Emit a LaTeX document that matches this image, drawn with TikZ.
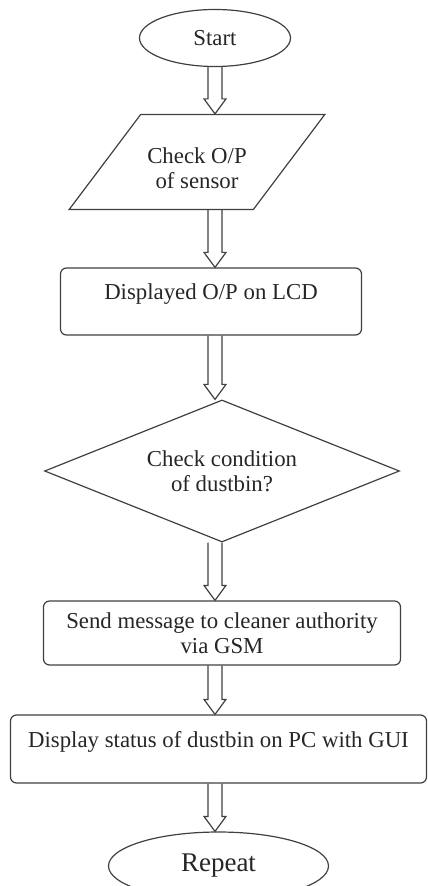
\documentclass[tikz,border=0pt]{standalone}
\usepackage{fontspec}
\setmainfont{Liberation Serif}
\usetikzlibrary{shapes.geometric,positioning}

\begin{document}
\begin{tikzpicture}[
	nodes={draw=black!75, line width=0.6pt, text=black!85, align=center, inner sep=0pt,
		font=\fontsize{11.4}{12.5}\selectfont},
	terminal/.style={ellipse},
	io/.style={trapezium, trapezium left angle=56.4, trapezium right angle=123.6,
		trapezium stretches=true},
	process/.style={rectangle, rounded corners=3pt},
	toptext/.style={text height=16pt, text depth=17.5pt},
	decision/.style={diamond, aspect=2.5},
	flow/.style={draw=black!75, line width=0.6pt,
		to path={([xshift=-3.5pt]\tikztostart) -- ([xshift=-3.5pt,yshift=7.5pt]\tikztotarget)
			-- ([xshift=-5.5pt,yshift=7.5pt]\tikztotarget) -- (\tikztotarget)
			-- ([xshift=5.5pt,yshift=7.5pt]\tikztotarget) -- ([xshift=3.5pt,yshift=7.5pt]\tikztotarget)
			-- ([xshift=3.5pt]\tikztostart)}}]
		\useasboundingbox (-107.5pt,19pt) rectangle (106pt,-424pt);
		\node (start) [terminal, minimum width=75.5pt, minimum height=28.5pt] {Start};
		\node (check) [io, below of = start, node distance=62pt, xshift=-9pt,
			text height=36.8pt, text depth=10.7pt, minimum width=128pt] {Check O/P\\of sensor};
		\node (disp) [process, toptext, below of = check, node distance=69.75pt, xshift=7pt,
			minimum width=150.5pt, minimum height=33.5pt] {Displayed O/P on LCD};
		\node (cond) [decision, below of = disp, node distance=84.75pt, xshift=5.5pt,
			minimum width=177.5pt, minimum height=71pt] {Check condition\\of dustbin?};
		\node (send) [process, below of = cond, node distance=81pt,
			minimum width=178.5pt, minimum height=32pt] {Send message to cleaner authority\\via GSM};
		\node (show) [process, toptext, below of = send, node distance=58pt, xshift=-1.75pt,
			minimum width=208pt, minimum height=34pt] {Display status of dustbin on PC with GUI};
		\node (rep) [terminal, below of = show, node distance=58.5pt,
			minimum width=110pt, minimum height=34pt, font=\fontsize{13.5}{15}\selectfont] {Repeat};
		\draw[flow] (start.south) to (start.south |- check.north);
		\draw[flow] (start.south |- check.south) to (start.south |- disp.north);
		\draw[flow] (start.south |- disp.south) to (start.south |- cond.north);
		\draw[flow] (start.south |- cond.south) to (start.south |- send.north);
		\draw[flow] (start.south |- send.south) to (start.south |- show.north);
		\draw[flow] (start.south |- show.south) to (start.south |- rep.north);
		\end{tikzpicture}
\end{document}
